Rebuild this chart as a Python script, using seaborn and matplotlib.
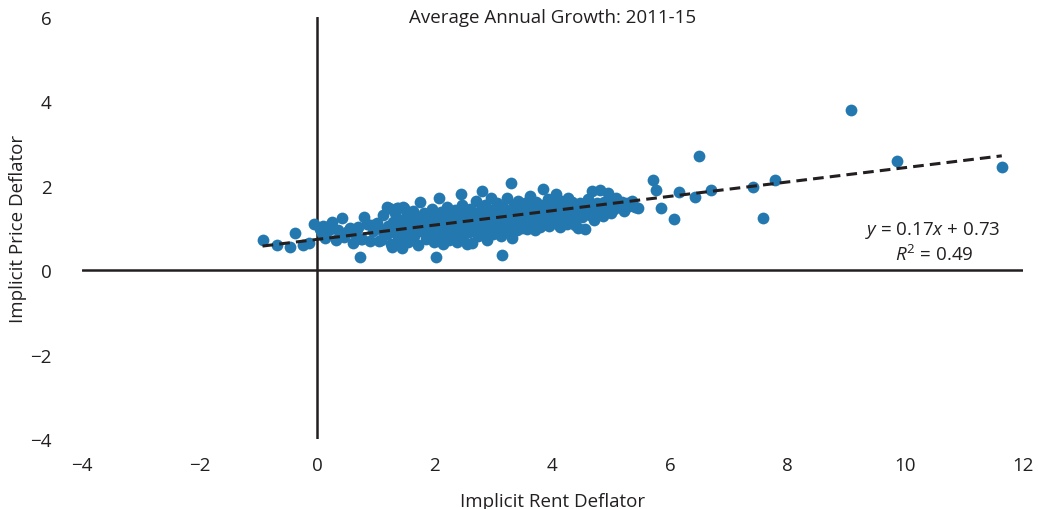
import numpy as np
import pandas as pd
import matplotlib
matplotlib.use('Agg')
import matplotlib.pyplot as plt
import seaborn as sns

# average annual growth 2011-15, one point per area
rent_left = [-0.93, -0.69, -0.47, -0.37, -0.25, -0.14, -0.05, 0.05, 0.08, 0.10, 0.14, 0.15,
             0.20, 0.25, 0.32, 0.35, 0.42, 0.46, 0.53, 0.55, 0.59, 0.61, 0.62, 0.68, 0.70,
             0.73, 0.75, 0.76, 0.80, 0.85, 0.90, 0.93, 0.95]
price_left = [0.71, 0.59, 0.55, 0.88, 0.59, 0.64, 1.09, 0.98, 0.88, 1.05, 0.76, 1.02,
              0.95, 1.15, 0.71, 0.95, 1.23, 0.78, 0.92, 1.00, 0.95, 0.64, 0.88, 0.97, 1.02,
              0.31, 0.75, 0.73, 1.26, 1.10, 0.70, 1.07, 0.92]

rent_mid = [1.02, 1.05, 1.08, 1.10, 1.12, 1.18, 1.19, 1.20, 1.22, 1.25, 1.27, 1.28, 1.30,
            1.33, 1.36, 1.37, 1.38, 1.40, 1.42, 1.44, 1.46, 1.47, 1.48, 1.50, 1.52,
            1.55, 1.57, 1.60, 1.62, 1.65, 1.67, 1.70, 1.72, 1.75, 1.77, 1.80, 1.82, 1.85,
            1.87, 1.90, 1.92, 1.95, 1.97, 1.98, 2.00,
            2.02, 2.03, 2.05, 2.07, 2.08, 2.10, 2.12, 2.14, 2.16, 2.18, 2.20, 2.22, 2.24,
            2.26, 2.28, 2.30, 2.32, 2.34, 2.36, 2.38, 2.40, 2.42, 2.44, 2.45, 2.47, 2.48,
            2.50, 2.52, 2.54, 2.56, 2.58, 2.60, 2.62, 2.64, 2.66, 2.68, 2.70, 2.72, 2.74,
            2.76, 2.78, 2.80, 2.81, 2.83, 2.85, 2.87, 2.89, 2.91, 2.93, 2.95, 2.97, 2.99]
price_mid = [1.12, 0.70, 0.71, 0.95, 1.30, 0.85, 1.49, 1.05, 1.48, 0.62, 0.55, 1.15, 0.90,
             1.35, 1.47, 1.47, 0.75, 1.00, 1.20, 0.52, 1.49, 1.48, 0.88, 1.10, 1.32,
             0.68, 0.97, 1.18, 1.40, 0.80, 1.05, 1.25, 0.60, 1.62, 0.92, 1.12, 1.35, 0.74,
             1.00, 1.22, 0.85, 1.45, 1.08, 0.66, 1.30,
             0.32, 0.95, 1.15, 1.70, 0.78, 1.38, 1.02, 0.62, 1.25, 0.88, 1.50, 1.10, 0.72,
             1.32, 0.97, 1.18, 0.82, 1.42, 1.05, 0.68, 1.28, 0.92, 1.80, 1.12, 1.55, 0.80,
             1.00, 1.35, 0.62, 1.20, 0.90, 1.45, 1.08, 0.64, 1.30, 0.95, 1.65, 1.15, 0.82,
             1.40, 1.02, 1.87, 1.25, 0.88, 1.55, 1.10, 0.72, 1.35, 0.98, 1.70, 1.20, 0.85]

rent_high = [3.01, 3.03, 3.05, 3.07, 3.09, 3.11, 3.13, 3.15, 3.16, 3.18, 3.20, 3.22, 3.24,
             3.26, 3.28, 3.29, 3.31, 3.32, 3.34, 3.36, 3.38, 3.40, 3.42, 3.44, 3.46, 3.48,
             3.50, 3.52, 3.54, 3.56, 3.58, 3.60, 3.62, 3.64, 3.66, 3.68, 3.70, 3.72, 3.74,
             3.76, 3.78, 3.80, 3.82, 3.84, 3.86, 3.88, 3.90, 3.92, 3.94, 3.96, 3.98,
             4.00, 4.02, 4.04, 4.06, 4.08, 4.10, 4.12, 4.14, 4.16, 4.18, 4.20, 4.22, 4.24,
             4.26, 4.28, 4.30, 4.32, 4.34, 4.36, 4.38, 4.40, 4.42, 4.44, 4.46, 4.48,
             4.50, 4.53, 4.56, 4.58, 4.61, 4.63, 4.66, 4.68, 4.70, 4.73, 4.75, 4.78, 4.81,
             4.83, 4.86, 4.88, 4.91, 4.94, 4.96, 4.99,
             5.02, 5.05, 5.08, 5.12, 5.15, 5.18, 5.22, 5.26, 5.30, 5.35, 5.40, 5.46]
price_high = [1.45, 1.05, 1.60, 0.92, 1.30, 1.15, 0.80, 0.36, 1.50, 1.00, 1.25, 1.72, 1.10,
              0.90, 1.38, 2.06, 1.18, 0.76, 1.55, 1.05, 1.30, 0.95, 1.65, 1.20, 1.42, 1.00,
              1.30, 1.12, 1.58, 0.98, 1.40, 1.22, 1.75, 1.05, 1.48, 1.30, 0.95, 1.62, 1.15,
              1.38, 1.02, 1.55, 1.25, 1.92, 1.10, 1.45, 1.30, 1.68, 1.05, 1.50, 1.20,
              1.38, 1.60, 1.12, 1.80, 1.28, 1.48, 1.02, 1.65, 1.35, 1.18, 1.55, 1.42, 1.10,
              1.72, 1.30, 1.50, 1.20, 1.62, 1.40, 1.08, 1.52, 1.32, 1.00, 1.60, 1.45,
              1.25, 1.55, 0.97, 1.40, 1.68, 1.30, 1.50, 1.87, 1.20, 1.45, 1.60, 1.35, 1.90,
              1.52, 1.28, 1.62, 1.42, 1.82, 1.55, 1.35,
              1.60, 1.45, 1.70, 1.52, 1.49, 1.62, 1.40, 1.58, 1.52, 1.65, 1.50, 1.47]

rent_right = [5.71, 5.76, 5.85, 6.07, 6.15, 6.42, 6.49, 6.69, 7.41, 7.58, 7.78, 9.07, 9.86, 11.64]
price_right = [2.13, 1.90, 1.47, 1.21, 1.85, 1.73, 2.70, 1.90, 1.97, 1.23, 2.13, 3.79, 2.58, 2.44]

# trend line as reported on the chart
slope = 0.17
intercept = 0.73
r_squared = 0.49

df = pd.DataFrame({
    'rent': rent_left + rent_mid + rent_high + rent_right,
    'price': price_left + price_mid + price_high + price_right,
})
trend = pd.DataFrame({'rent': [df['rent'].min(), df['rent'].max()]})
trend['price'] = intercept + slope * trend['rent']

sns.set_style('white')
plt.rcParams['font.family'] = ['Open Sans', 'DejaVu Sans']
plt.rcParams['mathtext.fontset'] = 'custom'
plt.rcParams['mathtext.it'] = 'Open Sans:italic'
plt.rcParams['mathtext.rm'] = 'Open Sans'

fig = plt.figure(figsize=(10.38, 5.10), dpi=100)
ax = fig.add_axes([0.079, 0.137, 0.9065, 0.828])

ax.axhline(0, color='#231f20', lw=1.8, zorder=1)
ax.axvline(0, color='#231f20', lw=1.8, zorder=1)

sns.scatterplot(data=df, x='rent', y='price', ax=ax, s=72, color='#2478b0',
                linewidth=0, zorder=2)
sns.lineplot(data=trend, x='rent', y='price', ax=ax, color='#231f20',
             linestyle=(0, (3.5, 2)), linewidth=2.2, zorder=3)

ax.set_xlim(-4, 12)
ax.set_ylim(-4, 6)
ax.set_xticks(range(-4, 13, 2))
ax.set_yticks(range(-4, 7, 2))
ax.set_xticklabels([str(v).replace('-', '\u2212') for v in range(-4, 13, 2)])
ax.set_yticklabels([str(v).replace('-', '\u2212') for v in range(-4, 7, 2)])
ax.tick_params(axis='both', length=0, labelsize=13.5, colors='#231f20')
ax.tick_params(axis='y', pad=22)
ax.tick_params(axis='x', pad=12)
for s in ax.spines.values():
    s.set_visible(False)

ax.set_xlabel('Implicit Rent Deflator', fontsize=13.5, color='#231f20', labelpad=13)
ax.set_ylabel('Implicit Price Deflator', fontsize=13.5, color='#231f20', labelpad=2)

ax.text(0.5, 1.0, 'Average Annual Growth: 2011-15', transform=ax.transAxes,
        ha='center', va='center', fontsize=13.5, color='#231f20')
ax.text(11.61, 0.97, rf'$y$ = {slope:.2f}$x$ + {intercept:.2f}', ha='right', va='center',
        fontsize=13.5, color='#231f20')
ax.text(10.49, 0.38, rf'$R^2$ = {r_squared:.2f}', ha='center', va='center',
        fontsize=13.5, color='#231f20')

fig.savefig('out.png', dpi=100)
